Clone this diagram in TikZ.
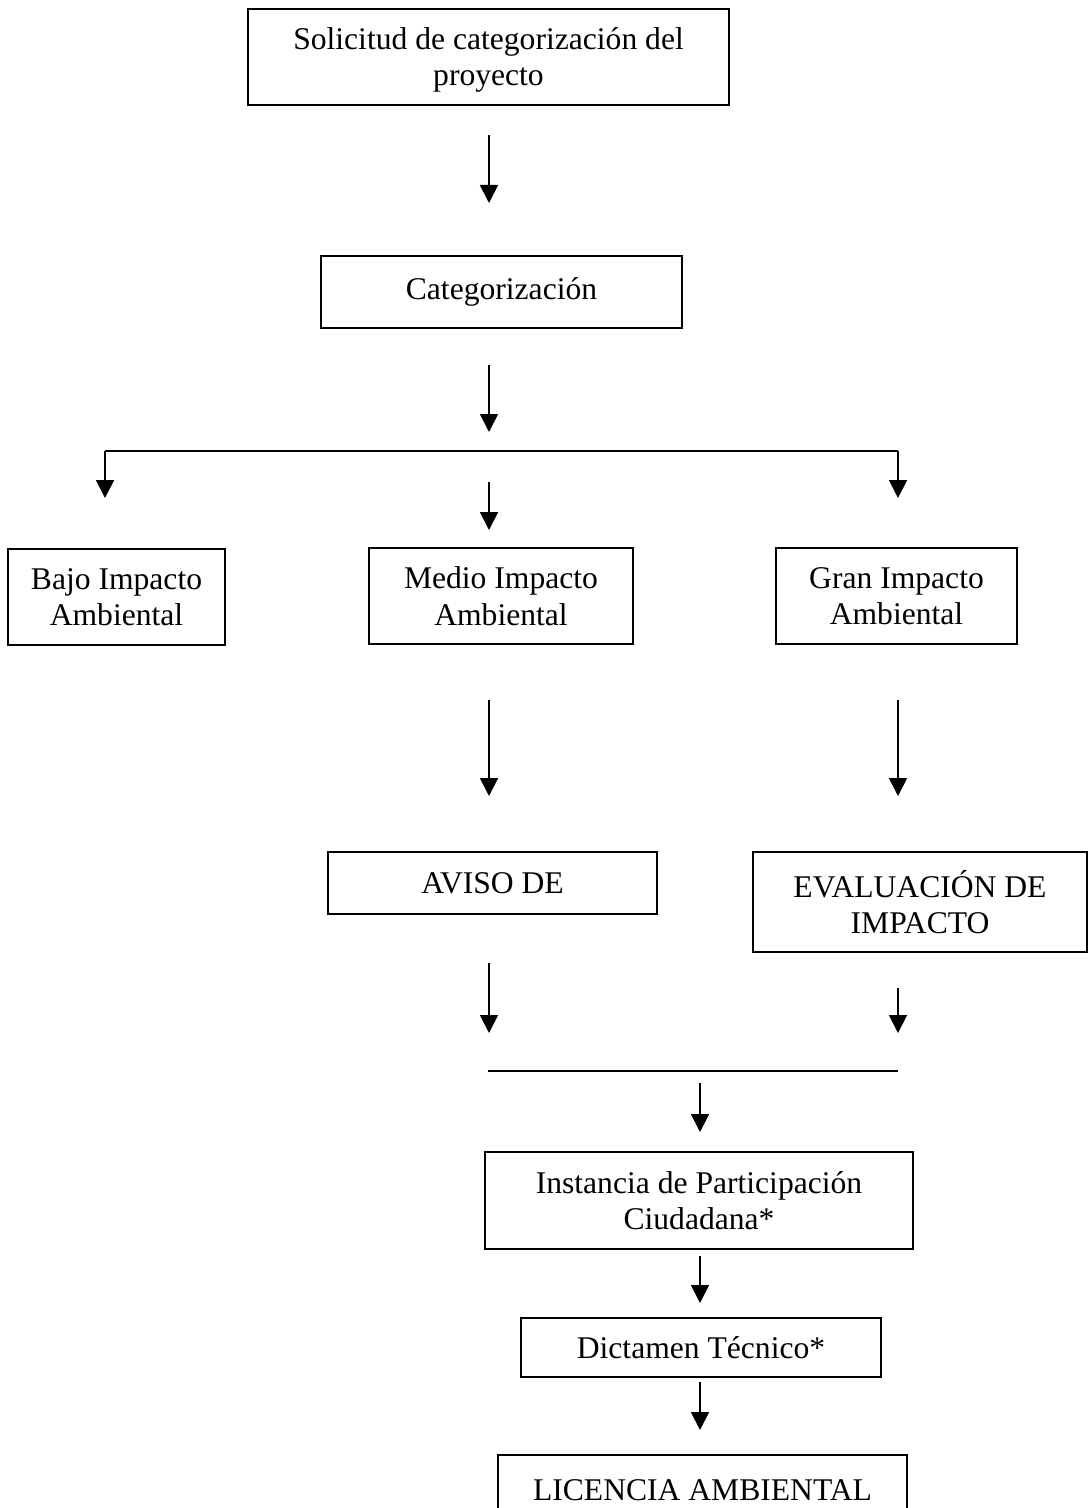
\documentclass[tikz,border=0pt]{standalone}
\usepackage{fontspec}
\setmainfont{Liberation Serif}
\usepackage{tikz}
\usetikzlibrary{arrows.meta}

\begin{document}
\begin{tikzpicture}[x=0.5pt,y=-0.5pt,
        box/.style={draw,line width=0.9pt,inner sep=0pt,align=center,
            font=\fontsize{15.8}{18.2}\selectfont},
        flecha/.style={line width=0.9pt,-{Triangle[width=9pt,length=9pt]}},
        linea/.style={line width=0.9pt}]
        \useasboundingbox (0,0) rectangle (1088,1508);

        % Boxes
        \node[box,minimum width=240.5pt,minimum height=48pt] (sol) at (488.5,57) {\\[-4pt]Solicitud de categorización del\\proyecto};
        \node[box,minimum width=180.5pt,minimum height=36pt] (cat) at (501.5,292) {Categorización};
        \node[box,minimum width=108.5pt,minimum height=48pt] (bajo) at (116.5,597) {Bajo Impacto\\Ambiental};
        \node[box,minimum width=132pt,minimum height=48pt] (medio) at (501,596) {Medio Impacto\\Ambiental};
        \node[box,minimum width=120.5pt,minimum height=48pt] (gran) at (896.5,596) {Gran Impacto\\Ambiental};
        \node[box,minimum width=164.5pt,minimum height=31pt] (aviso) at (492.5,883) {AVISO DE};
        \node[box,minimum width=167pt,minimum height=50pt] (eval) at (920,902) {EVALUACIÓN DE\\IMPACTO};
        \node[box,minimum width=214pt,minimum height=48.5pt] (inst) at (699,1200.5) {Instancia de Participación\\Ciudadana*};
        \node[box,minimum width=180pt,minimum height=29.5pt] (dict) at (701,1347.5) {Dictamen Técnico*};
        \node[box,minimum width=204.5pt,minimum height=35pt] (lic) at (702.5,1490) {LICENCIA AMBIENTAL};

        % Arrow ends
        \coordinate (s1) at (489,135);   \coordinate (e1) at (489,203);
        \coordinate (s2) at (489,365);   \coordinate (e2) at (489,432);
        \coordinate (ramaI) at (105,451); \coordinate (ramaD) at (898,451);
        \coordinate (eI) at (105,498);   \coordinate (eD) at (898,498);
        \coordinate (s3) at (489,482);   \coordinate (e3) at (489,530);
        \coordinate (s4) at (489,700);   \coordinate (e4) at (489,796);
        \coordinate (s5) at (898,700);   \coordinate (e5) at (898,796);
        \coordinate (s6) at (489,963);   \coordinate (e6) at (489,1033);
        \coordinate (s7) at (898,988);   \coordinate (e7) at (898,1033);
        \coordinate (unI) at (488,1071); \coordinate (unD) at (898,1071);
        \coordinate (s8) at (700,1083);  \coordinate (e8) at (700,1132);
        \coordinate (s9) at (700,1256);  \coordinate (e9) at (700,1303);
        \coordinate (s10) at (700,1382); \coordinate (e10) at (700,1430);

        % Arrows
        \draw[flecha] (s1) -- (e1);
        \draw[flecha] (s2) -- (e2);
        \draw[linea] (ramaI) -- (ramaD);
        \draw[flecha] (ramaI) -- (eI);
        \draw[flecha] (ramaD) -- (eD);
        \draw[flecha] (s3) -- (e3);
        \draw[flecha] (s4) -- (e4);
        \draw[flecha] (s5) -- (e5);
        \draw[flecha] (s6) -- (e6);
        \draw[flecha] (s7) -- (e7);
        \draw[linea] (unI) -- (unD);
        \draw[flecha] (s8) -- (e8);
        \draw[flecha] (s9) -- (e9);
        \draw[flecha] (s10) -- (e10);
\end{tikzpicture}
\end{document}
